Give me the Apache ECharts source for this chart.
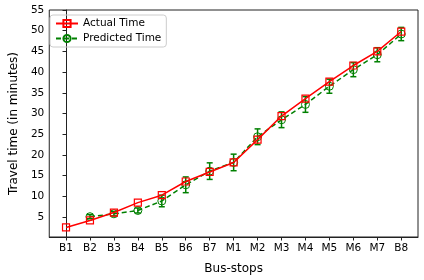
<!DOCTYPE html>
<html><head><meta charset="utf-8">
<script src="https://cdn.jsdelivr.net/npm/echarts@6/dist/echarts.min.js"></script>
<style>html,body{margin:0;padding:0;background:#fff}#c{width:424px;height:280px}</style>
</head><body><div id="c"></div>
<script>
var categories = ['B1','B2','B3','B4','B5','B6','B7','M1','M2','M3','M4','M5','M6','M7','B8'];
var actualTime = [2.5, 4.2, 6.1, 8.5, 10.3, 13.6, 15.9, 18.2, 23.7, 29.4, 33.6, 37.7, 41.6, 45.0, 49.8];
var predictedTime = [null, 5.1, 5.8, 6.6, 8.9, 12.8, 16.1, 18.2, 24.4, 28.5, 32.2, 36.6, 40.6, 44.2, 49.2];
var predictedErr = [null, 0.5, 0.5, 0.6, 1.4, 1.9, 2.0, 2.0, 1.9, 1.9, 1.9, 1.7, 1.7, 1.7, 1.6];
var yTicks = [5,10,15,20,25,30,35,40,45,50,55];

var idx = categories.map(function(_, i){ return i; });
var actualData = actualTime.map(function(v, i){ return [i, v]; });
var predData = [];
var errData = [];
predictedTime.forEach(function(v, i){
  if (v !== null) {
    predData.push([i, v]);
    errData.push([i, v - predictedErr[i], v + predictedErr[i]]);
  }
});

var font = 'DejaVu Sans';
var chart = echarts.init(document.getElementById('c'), null, {renderer:'canvas'});
chart.setOption({
  animation: false,
  textStyle: {fontFamily: font},
  grid: {left: 44, right: 6, top: 10, bottom: 41, show: true, borderColor: '#222', borderWidth: 1, backgroundColor: 'transparent'},
  legend: {
    orient: 'vertical', left: 50, top: 15,
    borderColor: '#ccc', borderWidth: 1, borderRadius: 3,
    padding: [3, 5, 3, 5], itemGap: 4, itemWidth: 22, itemHeight: 9,
    textStyle: {fontFamily: font, fontSize: 10.5, color: '#000'},
    data: ['Actual Time', 'Predicted Time']
  },
  xAxis: {
    type: 'value', min: -0.7, max: 14.7,
    name: 'Bus-stops', nameLocation: 'middle', nameGap: 26,
    nameTextStyle: {fontFamily: font, fontSize: 12, color: '#000'},
    axisLine: {show: true, onZero: false, lineStyle: {color: '#222'}},
    axisTick: {show: true, length: 3.5, customValues: idx, lineStyle: {color: '#222'}},
    axisLabel: {customValues: idx, fontFamily: font, fontSize: 10.5, color: '#000', margin: 6,
      formatter: function(v){ return categories[Math.round(v)]; }},
    splitLine: {show: false}
  },
  yAxis: {
    type: 'value', min: 0.2, max: 55,
    name: 'Travel time (in minutes)', nameLocation: 'middle', nameGap: 27,
    nameTextStyle: {fontFamily: font, fontSize: 12, color: '#000'},
    axisLine: {show: true, lineStyle: {color: '#222'}},
    axisTick: {show: true, length: 3.5, customValues: yTicks, lineStyle: {color: '#222'}},
    axisLabel: {customValues: yTicks, fontFamily: font, fontSize: 10.5, color: '#000', margin: 5},
    splitLine: {show: false}
  },
  series: [
    {
      name: 'PredictedErr', type: 'custom', data: errData, z: 3,
      itemStyle: {color: '#008000'},
      renderItem: function(params, api){
        var x = api.value(0);
        var lo = api.coord([x, api.value(1)]);
        var hi = api.coord([x, api.value(2)]);
        var c = 3;
        var st = {stroke: '#008000', lineWidth: 1.5};
        return {type: 'group', children: [
          {type: 'line', shape: {x1: lo[0], y1: lo[1], x2: hi[0], y2: hi[1]}, style: st},
          {type: 'line', shape: {x1: lo[0]-c, y1: lo[1], x2: lo[0]+c, y2: lo[1]}, style: st},
          {type: 'line', shape: {x1: hi[0]-c, y1: hi[1], x2: hi[0]+c, y2: hi[1]}, style: st}
        ]};
      },
      silent: true
    },
    {
      name: 'Actual Time', type: 'line', data: actualData, z: 5,
      symbol: 'rect', symbolSize: 7, showAllSymbol: true,
      lineStyle: {color: '#ff0000', width: 1.5},
      itemStyle: {color: 'rgba(0,0,0,0)', borderColor: '#ff0000', borderWidth: 1.2},
      emphasis: {disabled: true}
    },
    {
      name: 'Predicted Time', type: 'line', data: predData, z: 4,
      symbol: 'circle', symbolSize: 8, showAllSymbol: true,
      lineStyle: {color: '#008000', width: 1.5, type: [5, 3]},
      itemStyle: {color: 'rgba(0,0,0,0)', borderColor: '#008000', borderWidth: 1},
      emphasis: {disabled: true}
    }
  ]
});
</script>
</body></html>
